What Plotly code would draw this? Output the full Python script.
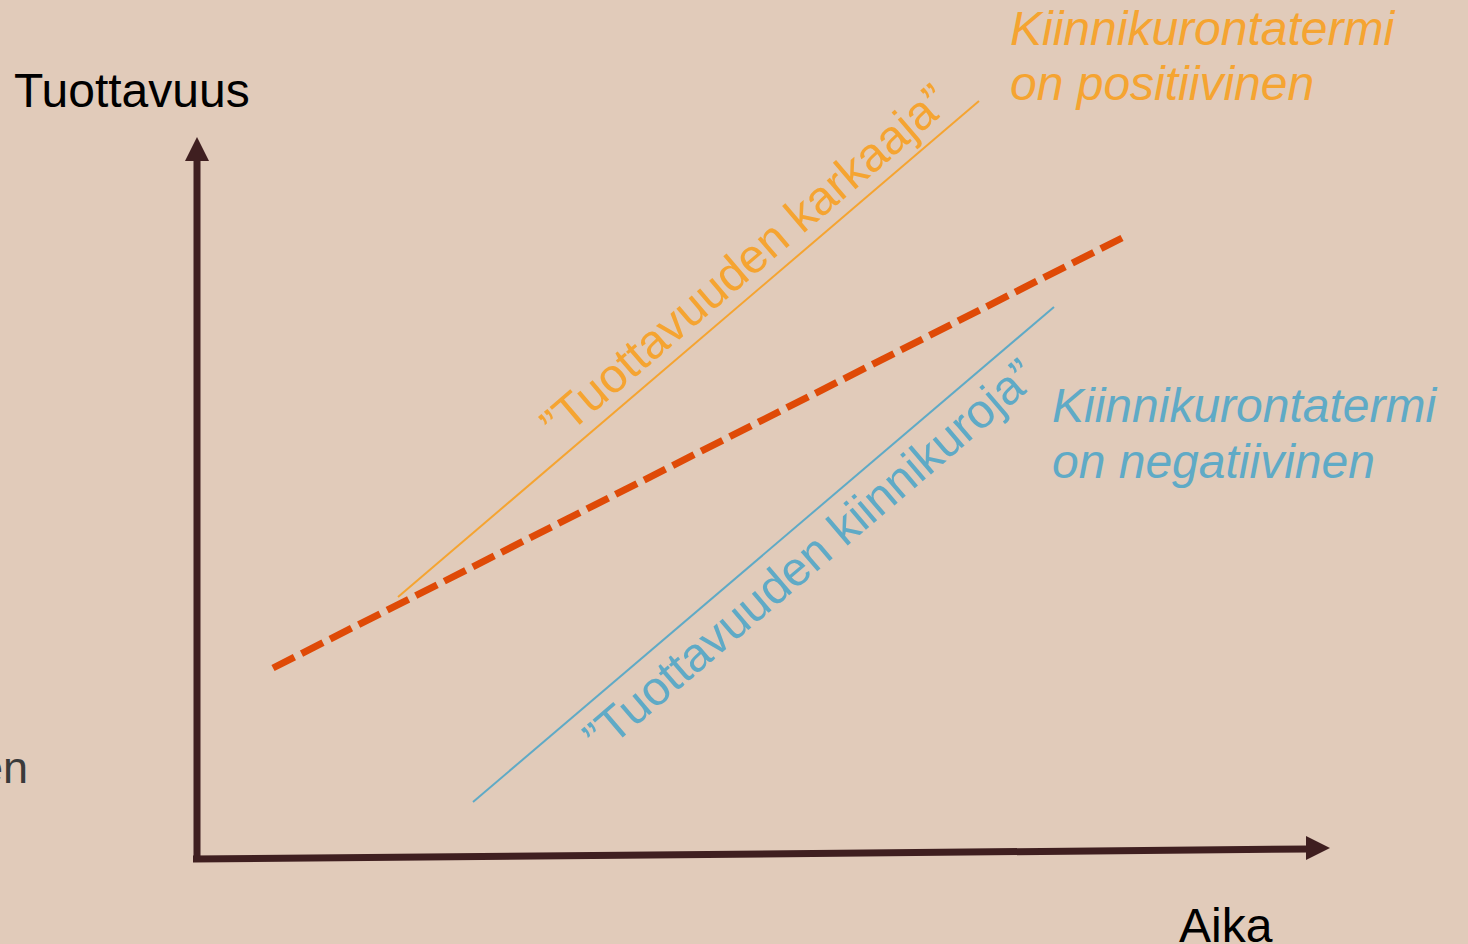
import plotly.graph_objs as go

# Koordinaatit: origo akselien kulmassa, yksikkö ~ 1 px
akseli_y_x = [0, 0]
akseli_y_y = [-2, 702]
akseli_x_x = [-4, 1113]
akseli_x_y = [-1, 9]

nuoli_x = [0, 1133]
nuoli_y = [721, 10]
nuoli_symbolit = ['arrow-up', 'arrow-right']

trendi_x = [76, 925]
trendi_y = [190, 620]

karkaaja_x = [201, 782]
karkaaja_y = [261, 757]

kiinnikuroja_x = [276, 857]
kiinnikuroja_y = [56, 551]

tausta = '#E1CBBA'
akselivari = '#3F1F20'
oranssi = '#F5A431'
sininen = '#5FAAC6'
punainen = '#DF4A07'
fontti = 'Liberation Sans, Arial, sans-serif'

data = []

data.append(go.Scatter(x=akseli_y_x, y=akseli_y_y, mode='lines',
                       line=dict(color=akselivari, width=7)))
data.append(go.Scatter(x=akseli_x_x, y=akseli_x_y, mode='lines',
                       line=dict(color=akselivari, width=7)))
data.append(go.Scatter(x=nuoli_x, y=nuoli_y, mode='markers',
                       marker=dict(symbol=nuoli_symbolit, size=24, color=akselivari,
                                   line=dict(width=0))))

data.append(go.Scatter(x=karkaaja_x, y=karkaaja_y, mode='lines',
                       line=dict(color=oranssi, width=2)))
data.append(go.Scatter(x=kiinnikuroja_x, y=kiinnikuroja_y, mode='lines',
                       line=dict(color=sininen, width=2)))
data.append(go.Scatter(x=trendi_x, y=trendi_y, mode='lines',
                       line=dict(color=punainen, width=7, dash='24px,8px')))

tekstit = [
    # teksti, x, y, kulma, väri, ankkuri, kursiivi, koko
    ('Tuottavuus', -185, 768, 0, '#000000', 'left', False, 48),
    ('Aika', 980, -67, 0, '#000000', 'left', False, 48),
    ('en', -167, 91, 0, '#3A3A3A', 'right', False, 45),
    ('Kiinnikurontatermi', 811, 830, 0, oranssi, 'left', True, 48),
    ('on positiivinen', 811, 775, 0, oranssi, 'left', True, 48),
    ('Kiinnikurontatermi', 853, 453, 0, sininen, 'left', True, 48),
    ('on negatiivinen', 853, 397, 0, sininen, 'left', True, 48),
    ('\u201dTuottavuuden karkaaja\u201d', 547, 596, -40.5, oranssi, 'center', False, 48),
    ('\u201dTuottavuuden kiinnikuroja\u201d', 612, 302, -40.5, sininen, 'center', False, 48),
]

annotations = []
for teksti, x, y, kulma, vari, ankkuri, kursiivi, koko in tekstit:
    annotations.append(dict(
        x=x, y=y, xref='x', yref='y', text=teksti, showarrow=False,
        textangle=kulma, xanchor=ankkuri, yanchor='middle',
        font=dict(family=fontti, size=koko, color=vari,
                  style='italic' if kursiivi else 'normal'),
    ))

fig = go.Figure(data=data)

fig.update_layout(
    width=1468, height=944,
    margin=dict(l=0, r=0, t=0, b=0),
    paper_bgcolor=tausta, plot_bgcolor=tausta,
    showlegend=False,
    hovermode=False,
    annotations=annotations,
    xaxis=dict(range=[-197, 1271], visible=False, fixedrange=True),
    yaxis=dict(range=[-86, 858], visible=False, fixedrange=True),
)

fig.write_html("out.html", config=dict(displayModeBar=False),
               post_script="document.body.style.margin='0';document.body.style.overflow='hidden';")
